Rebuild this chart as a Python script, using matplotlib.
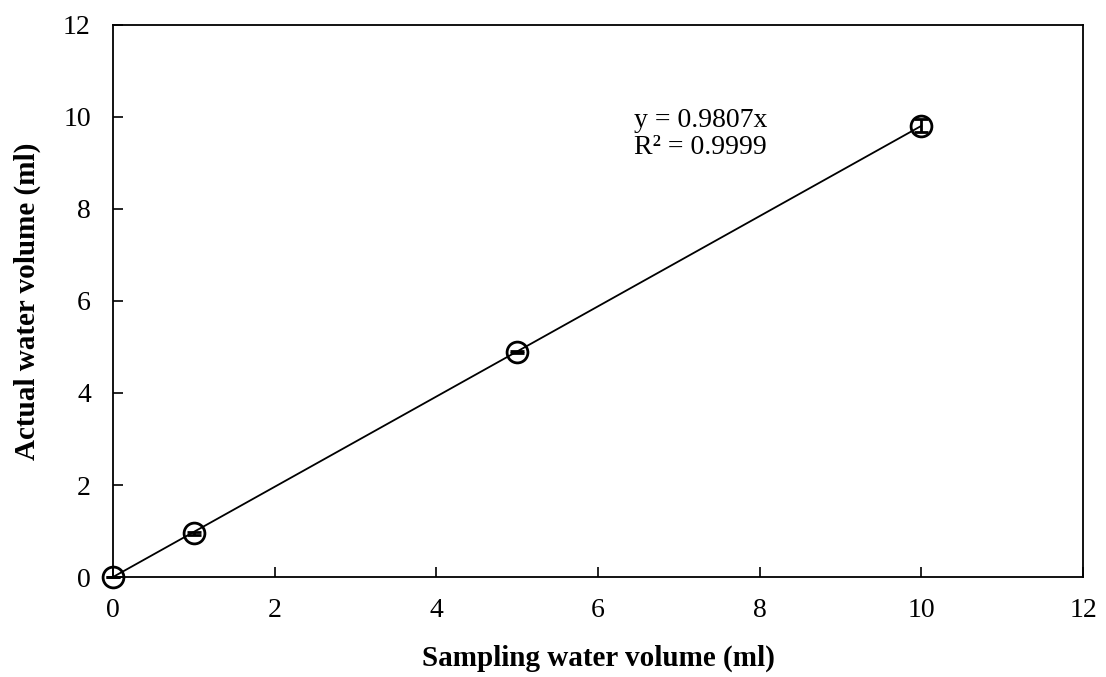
import numpy as np
import matplotlib.pyplot as plt

plt.rcParams['font.family'] = ['Liberation Serif', 'DejaVu Serif']

# data
sampling = [0, 1, 5, 10]
actual = [0.0, 0.95, 4.89, 9.81]
actual_err = [0.0, 0.03, 0.03, 0.14]
slope = 0.9807
r2 = 0.9999

fig = plt.figure(figsize=(11.06, 6.77), dpi=100)
ax = fig.add_axes([0.1022, 0.1477, 0.877, 0.8154])

xs = np.array([0, 10])
ax.plot(xs, slope * xs, color='black', linewidth=1.3, zorder=2)

ax.errorbar(sampling, actual, yerr=actual_err, fmt='o', mfc='none', mec='black',
            mew=2, ms=15, ecolor='black', elinewidth=2, capsize=5, capthick=2,
            zorder=3, clip_on=False)

ax.text(6.45, 9.2, f'y = {slope}x\nR² = {r2}', fontsize=20, linespacing=1.12)

ax.set_xlim(0, 12)
ax.set_ylim(0, 12)
ax.set_xticks(range(0, 13, 2))
ax.set_yticks(range(0, 13, 2))
ax.tick_params(direction='in', length=7, width=1.2, labelsize=20)
ax.tick_params(axis='x', pad=15)
ax.tick_params(axis='y', pad=16)
for s in ax.spines.values():
    s.set_linewidth(1.3)

ax.set_xlabel('Sampling water volume (ml)', fontsize=21, fontweight='bold', labelpad=16)
ax.set_ylabel('Actual water volume (ml)', fontsize=21, fontweight='bold', labelpad=16)

fig.savefig('out.png', dpi=100)
